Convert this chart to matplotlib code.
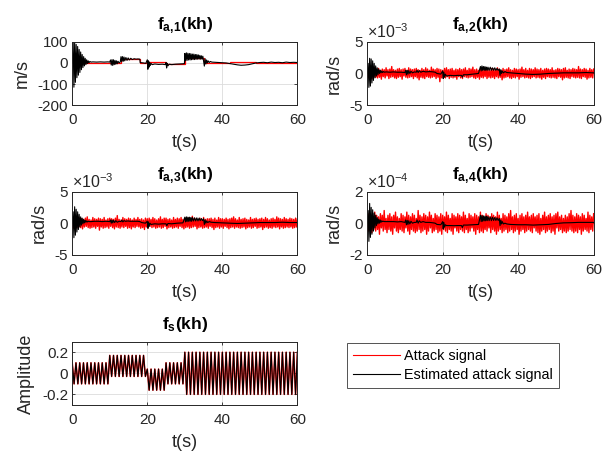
import numpy as np
import matplotlib
matplotlib.use('Agg')
import matplotlib.pyplot as plt

plt.rcParams['font.family'] = ['Liberation Sans', 'DejaVu Sans']
plt.rcParams['mathtext.fontset'] = 'custom'
plt.rcParams['mathtext.rm'] = 'Liberation Sans'
plt.rcParams['mathtext.it'] = 'Liberation Sans:italic'
plt.rcParams['mathtext.bf'] = 'Liberation Sans:bold'
plt.rcParams['axes.unicode_minus'] = False

TEXT = '#262626'
RED = '#ff0000'

# ---- f_a,1 (m/s): attack is piecewise constant, estimate has transients
FA1_ATK_EDGES = [0, 13, 18, 20, 25, 30, 35, 42, 49, 60]
FA1_ATK_LEVEL = [0, 20, 0, 3, -5, 25, 0, 4, 0]
FA1_EST_T = [0, 0.25, 0.45, 0.65, 0.85, 1.05, 1.25, 1.45, 1.65, 1.85, 2.05, 2.25, 2.45,
             2.65, 2.85, 3.05, 3.25, 3.45, 3.65, 3.85, 4.05, 4.25, 4.45, 4.7, 5.0,
             5.5, 6.5, 7.5, 8.5, 9.5, 10.0,
             10.2, 10.4, 10.6, 10.8, 11.0, 11.2, 11.4, 11.6, 11.8, 12.0, 12.2, 12.5, 12.8,
             13.0, 13.2, 13.4, 13.6, 13.8, 14.0, 14.3, 14.6, 14.9, 15.2, 15.6, 16.0, 16.5,
             17.0, 17.5, 18.0, 18.1, 19.0, 19.6,
             20.0, 20.15, 20.3, 20.45, 20.6, 20.8, 21.0, 21.3, 22.0, 23.0, 24.0, 24.8,
             25.0, 25.15, 25.3, 25.5, 25.8, 26.5, 27.5, 28.5, 29.5, 29.9,
             30.0, 30.2, 30.4, 30.6, 30.8, 31.0, 31.2, 31.4, 31.6, 31.8, 32.0, 32.2, 32.4,
             32.6, 32.8, 33.0, 33.2, 33.4, 33.6, 33.8, 34.0, 34.2, 34.4, 34.6, 34.8,
             35.0, 35.2, 35.4, 35.6, 35.8, 36.0, 36.2, 36.5, 36.8, 37.2, 38, 39, 40, 41,
             42, 43, 44, 45, 46, 47, 48, 49, 50,
             51, 52, 53, 54, 55, 56, 57, 58, 59, 60]
FA1_EST_V = [0, 98, -115, 96, -92, 88, -70, 78, -58, 64, -45, 52, -32,
             40, -22, 30, -14, 22, -8, 15, -3, 10, 0, 7, 4,
             5, 4, 5, 4, 5, 4,
             14, -10, 16, -12, 15, -8, 12, -6, 10, -4, 8, 0, 5,
             30, 6, 30, 8, 28, 10, 26, 12, 24, 14, 22, 16, 20,
             18, 19, 18, 2, 0, -2,
             15, -30, 10, -20, 4, -12, -2, -8, -5, -7, -6, -8,
             2, -24, -2, -14, -6, -8, -6, -5, -4, -3,
             45, 10, 48, 12, 46, 14, 45, 14, 44, 15, 42, 16, 42,
             16, 40, 17, 40, 18, 38, 18, 36, 18, 34, 18, 32,
             10, -15, 20, -5, 14, 0, 10, 2, 7, 4, 3, 2, 1, 0,
             -3, -6, -9, -11, -10, -8, -4, 0, 2,
             3, 1, 4, 2, 3, 1, 4, 2, 3, 2]

# ---- f_a,2 (x1e-3 rad/s), attack sampled every 0.25 s
FA2_ATK = [0.5, -0.7, 0.8, -0.4, 0.6, -0.8, 0.7, -0.5, 0.9, -0.6,
           0.4, -0.7, 0.8, -0.6, 0.5, -0.9, 0.7, -0.5, 0.6, -0.7,
           0.9, -0.4, 0.6, -0.8, 0.7, -0.6, 1.1, -0.5, 0.6, -0.7,
           0.5, -0.8, 0.7, -0.6, 0.8, -0.5, 0.6, -0.9, 0.7, -0.4,
           0.8, -0.6, 0.5, -0.7, 0.9, -0.6, 0.7, -0.5, 0.6, -0.8,
           0.7, -0.5, 0.8, -0.7, 0.6, -1.0, 0.5, -0.6, 0.8, -0.7,
           0.6, -0.8, 0.9, -0.5, 0.7, -0.6, 0.5, -0.7, 1.0, -0.6,
           0.7, -0.5, 0.6, -0.8, 0.8, -0.6, 0.7, -1.3, 0.6, -0.7,
           0.5, -0.6, 0.8, -0.7, 0.9, -0.5, 0.6, -0.8, 0.7, -0.6,
           0.8, -0.7, 0.5, -0.6, 0.7, -0.9, 0.6, -0.5, 0.8, -0.7,
           0.6, -0.8, 0.7, -0.5, 0.9, -0.6, 0.5, -0.7, 0.8, -0.6,
           0.7, -0.5, 1.0, -0.7, 0.6, -0.8, 0.7, -0.6, 0.5, -0.9,
           0.8, -0.6, 0.6, -0.7, 0.7, -0.5, 0.9, -0.8, 0.6, -0.6,
           0.5, -0.7, 0.8, -0.6, 0.7, -0.8, 0.6, -0.5, 0.9, -0.7,
           0.7, -0.6, 0.5, -1.0, 0.8, -0.7, 0.6, -0.6, 0.7, -0.5,
           0.9, -0.7, 0.6, -0.8, 0.5, -0.6, 0.8, -0.7, 0.7, -0.5,
           0.6, -0.9, 0.7, -0.6, 1.0, -0.5, 0.6, -0.7, 0.8, -0.6,
           0.5, -0.7, 0.8, -0.8, 0.7, -0.6, 0.6, -0.5, 0.9, -0.7,
           0.7, -0.6, 0.6, -0.7, 0.8, -0.9, 0.5, -0.6, 0.7, -0.8,
           0.8, -0.5, 0.7, -0.6, 0.6, -0.7, 0.9, -0.6, 0.5, -0.7,
           0.6, -0.8, 0.8, -0.5, 0.7, -0.6, 0.6, -1.0, 0.8, -0.7,
           0.9, -0.6, 0.5, -0.7, 0.7, -0.8, 0.6, -0.5, 0.8, -0.6,
           0.7, -0.7, 0.6, -0.6, 1.1, -0.7, 0.7, -0.8, 0.6, -0.5,
           0.8, -0.6, 0.7, -0.9, 0.5, -0.7, 0.8, -0.6, 0.6, -0.7,
           0.7]
FA2_EST_T = [0, 0.25, 0.45, 0.65, 0.85, 1.05, 1.25, 1.45, 1.65, 1.85, 2.05, 2.25, 2.45,
             2.65, 2.85, 3.05, 3.25, 3.45, 3.65, 3.85, 4.05, 4.3, 4.6, 5.0,
             6, 7, 8, 9, 10,
             10.2, 10.4, 10.6, 10.8, 11.0, 11.3, 11.6, 12.0, 12.5, 13.0,
             13.2, 13.5, 13.8, 14.2, 14.8, 15.5, 16.5, 17.5, 18.0, 18.5, 19.5,
             20.0, 20.15, 20.3, 20.5, 20.7, 21.0, 22, 23, 24, 25.0, 25.2, 25.5, 26.5, 28, 29.5,
             30.0, 30.2, 30.4, 30.6, 30.8, 31.0, 31.2, 31.4, 31.6, 31.8, 32.0, 32.3, 32.6,
             32.9, 33.2, 33.5, 33.8, 34.1, 34.4, 34.7, 35.0,
             35.2, 35.4, 35.6, 35.8, 36.1, 36.5, 37,
             38, 40, 42, 44, 46, 48, 50, 52, 54, 56, 58, 60]
FA2_EST_V = [0, 1.6, -2.2, 2.4, -2.0, 2.3, -1.5, 2.0, -1.1, 1.6, -0.7, 1.2, -0.4,
             0.9, -0.2, 0.7, 0.0, 0.5, 0.1, 0.4, 0.15, 0.3, 0.2, 0.25,
             0.2, 0.25, 0.2, 0.2, 0.15,
             0.5, -0.2, 0.5, -0.1, 0.45, 0.0, 0.35, 0.1, 0.25, 0.2,
             0.5, 0.15, 0.45, 0.2, 0.35, 0.25, 0.3, 0.25, 0.2, 0.0, -0.1,
             0.4, -0.8, 0.2, -0.6, -0.1, -0.4, -0.3, -0.35, -0.3, -0.3, -0.6, -0.2, -0.2, -0.1, 0.0,
             1.1, 0.4, 1.2, 0.5, 1.1, 0.5, 1.1, 0.5, 1.0, 0.5, 1.0, 0.5, 1.0,
             0.5, 0.9, 0.5, 0.9, 0.5, 0.8, 0.5, 0.7,
             -0.3, 0.6, 0.0, 0.4, 0.1, 0.3, 0.15,
             0.1, 0.0, -0.1, -0.15, -0.1, 0.0, 0.05, 0.1, 0.1, 0.1, 0.15, 0.1]

# ---- f_a,3 (x1e-3 rad/s), attack sampled every 0.25 s
FA3_ATK = [0.6, -0.8, 0.7, -0.5, 0.9, -0.7, 0.5, -0.6, 0.8, -0.7,
           0.7, -0.9, 0.6, -0.6, 0.8, -0.5, 1.0, -0.7, 0.6, -0.8,
           0.5, -0.7, 0.9, -0.6, 0.7, -0.8, 0.6, -0.5, 0.8, -1.1,
           0.7, -0.6, 0.6, -0.8, 0.9, -0.7, 0.5, -0.6, 0.7, -0.8,
           0.8, -0.5, 0.7, -0.7, 0.6, -0.9, 0.8, -0.6, 1.2, -0.7,
           0.6, -0.8, 0.5, -0.6, 0.9, -0.7, 0.7, -0.5, 0.6, -0.8,
           0.8, -0.7, 0.7, -0.9, 0.5, -0.6, 0.8, -0.7, 0.6, -0.5,
           0.9, -0.6, 0.6, -0.8, 0.7, -0.7, 0.5, -1.0, 0.8, -0.6,
           0.7, -0.8, 0.8, -0.5, 0.6, -0.7, 0.9, -0.6, 0.7, -0.8,
           0.5, -0.7, 0.7, -0.6, 1.0, -0.8, 0.6, -0.7, 0.8, -0.5,
           0.8, -0.9, 0.6, -0.7, 0.7, -0.6, 0.5, -0.8, 0.9, -0.7,
           0.6, -0.6, 0.8, -0.8, 0.7, -0.5, 0.9, -0.7, 0.6, -0.9,
           0.7, -0.7, 0.5, -0.6, 0.8, -0.8, 0.6, -0.7, 1.1, -0.6,
           0.8, -0.5, 0.7, -0.9, 0.6, -0.7, 0.8, -0.6, 0.5, -0.8,
           0.9, -0.7, 0.6, -0.6, 0.7, -0.8, 0.7, -0.5, 0.8, -0.7,
           0.6, -1.0, 0.8, -0.7, 0.5, -0.6, 0.9, -0.8, 0.7, -0.6,
           0.7, -0.8, 0.6, -0.5, 0.8, -0.7, 0.6, -0.9, 0.7, -0.7,
           0.8, -0.6, 1.0, -0.8, 0.7, -0.6, 0.5, -0.7, 0.9, -0.8,
           0.6, -0.7, 0.7, -0.6, 0.8, -0.9, 0.6, -0.7, 0.5, -0.6,
           0.9, -0.8, 0.6, -0.7, 0.7, -0.5, 0.8, -0.8, 0.6, -0.7,
           0.7, -0.6, 0.8, -1.0, 0.6, -0.7, 0.9, -0.6, 0.7, -0.8,
           0.5, -0.7, 0.7, -0.8, 0.8, -0.6, 0.6, -0.7, 1.0, -0.6,
           0.8, -0.9, 0.7, -0.6, 0.6, -0.8, 0.9, -0.7, 0.7, -0.6,
           0.6, -0.7, 0.8, -0.6, 0.7, -0.8, 0.6, -0.7, 0.8, -0.6,
           0.7]
FA3_EST_T = FA2_EST_T
FA3_EST_V = [0, 1.8, -2.3, 2.6, -1.9, 2.2, -1.4, 1.8, -1.0, 1.4, -0.6, 1.0, -0.3,
             0.8, -0.1, 0.6, 0.05, 0.45, 0.15, 0.35, 0.2, 0.3, 0.25, 0.25,
             0.3, 0.3, 0.25, 0.3, 0.25,
             0.5, 0.0, 0.5, 0.05, 0.45, 0.1, 0.4, 0.15, 0.3, 0.25,
             0.5, 0.2, 0.4, 0.3, 0.35, 0.3, 0.3, 0.3, 0.25, 0.1, 0.0,
             0.3, -0.8, 0.2, -0.5, 0.0, -0.2, -0.1, -0.15, -0.1, -0.1, -0.4, -0.05, -0.1, 0.0, 0.05,
             0.95, 0.2, 1.0, 0.25, 0.95, 0.3, 0.95, 0.3, 0.9, 0.3, 0.9, 0.35, 0.85,
             0.35, 0.85, 0.35, 0.8, 0.4, 0.75, 0.4, 0.7,
             -0.2, 0.5, 0.0, 0.35, 0.1, 0.25, 0.15,
             0.1, 0.05, 0.0, -0.05, 0.0, 0.05, 0.1, 0.1, 0.1, 0.15, 0.1, 0.1]

# ---- f_a,4 (x1e-4 rad/s), attack sampled every 0.25 s
FA4_ATK = [0.4, -0.5, 0.6, -0.3, 0.5, -0.6, 0.3, -0.4, 0.7, -0.5,
           0.5, -0.4, 0.4, -0.7, 0.6, -0.3, 0.5, -0.5, 0.8, -0.4,
           0.3, -0.6, 0.5, -0.4, 0.6, -0.5, 0.4, -0.7, 0.5, -0.3,
           0.7, -0.5, 0.4, -0.6, 0.3, -0.4, 0.6, -0.5, 0.5, -0.6,
           0.4, -0.3, 0.7, -0.5, 0.5, -0.7, 0.4, -0.4, 0.6, -0.5,
           0.5, -0.6, 0.3, -0.5, 0.8, -0.4, 0.5, -0.6, 0.4, -0.5,
           0.6, -0.4, 0.5, -0.7, 0.4, -0.5, 0.7, -0.3, 0.5, -0.6,
           0.3, -0.5, 0.6, -0.4, 0.5, -0.6, 0.4, -0.5, 0.6, -0.7,
           0.5, -0.4, 0.4, -0.5, 0.7, -0.6, 0.5, -0.4, 0.3, -0.5,
           0.6, -0.7, 0.5, -0.3, 0.4, -0.5, 0.6, -0.6, 0.5, -0.4,
           0.4, -0.5, 0.7, -0.6, 0.5, -0.4, 0.3, -0.6, 0.6, -0.5,
           0.5, -0.3, 0.4, -0.5, 0.6, -0.7, 0.5, -0.4, 0.4, -0.6,
           0.7, -0.5, 0.5, -0.6, 0.3, -0.4, 0.6, -0.5, 0.5, -0.3,
           0.4, -0.6, 0.6, -0.4, 0.5, -0.5, 0.4, -0.7, 0.7, -0.5,
           0.5, -0.4, 0.3, -0.6, 0.6, -0.5, 0.5, -0.4, 0.4, -0.6,
           0.6, -0.5, 0.8, -0.4, 0.4, -0.6, 0.5, -0.5, 0.6, -0.4,
           0.3, -0.7, 0.5, -0.5, 0.6, -0.4, 0.4, -0.6, 0.5, -0.5,
           0.7, -0.4, 0.4, -0.5, 0.5, -0.6, 0.6, -0.3, 0.4, -0.5,
           0.5, -0.6, 0.6, -0.7, 0.3, -0.5, 0.5, -0.4, 0.7, -0.6,
           0.4, -0.5, 0.5, -0.4, 0.6, -0.6, 0.4, -0.5, 0.5, -0.7,
           0.6, -0.3, 0.7, -0.5, 0.4, -0.4, 0.5, -0.6, 0.3, -0.5,
           0.5, -0.6, 0.4, -0.5, 0.6, -0.4, 0.8, -0.5, 0.5, -0.6,
           0.4, -0.5, 0.6, -0.6, 0.5, -0.4, 0.4, -0.7, 0.6, -0.5,
           0.5, -0.4, 0.3, -0.5, 0.7, -0.6, 0.5, -0.4, 0.4, -0.5,
           0.6]
FA4_EST_T = FA2_EST_T
FA4_EST_V = [0, 0.8, -1.15, 1.25, -0.9, 1.0, -0.7, 0.85, -0.5, 0.65, -0.3, 0.5, -0.15,
             0.35, -0.05, 0.25, 0.0, 0.2, 0.05, 0.15, 0.1, 0.12, 0.1, 0.1,
             0.1, 0.1, 0.08, 0.1, 0.05,
             0.2, -0.1, 0.18, -0.08, 0.15, -0.05, 0.12, 0.0, 0.05, 0.05,
             0.2, 0.0, 0.15, 0.05, 0.1, 0.05, 0.05, 0.02, 0.0, -0.08, -0.1,
             0.1, -0.37, 0.05, -0.25, -0.1, -0.15, -0.15, -0.16, -0.15, -0.15, -0.28, -0.12, -0.12, -0.1, -0.08,
             0.5, 0.1, 0.48, 0.12, 0.46, 0.15, 0.45, 0.15, 0.44, 0.16, 0.42, 0.16, 0.4,
             0.16, 0.38, 0.17, 0.36, 0.17, 0.34, 0.17, 0.3,
             -0.15, 0.2, -0.05, 0.1, -0.05, 0.0, -0.05,
             -0.08, -0.1, -0.1, -0.12, -0.1, -0.08, -0.02, 0.02, 0.03, 0.05, 0.05, 0.05]

# ---- f_s (amplitude), sampled every 0.5 s: estimate overlays the attack signal
FS_ATK = [0.1, -0.1, 0.1, -0.1, 0.1, -0.1, 0.1, -0.1, 0.1, -0.1,
          0.1, -0.1, 0.1, -0.1, 0.1, -0.1, 0.1, -0.1, 0.1, -0.1,
          0.17, -0.03, 0.17, -0.03, 0.17, -0.03, 0.17, -0.03, 0.17, -0.03,
          0.17, -0.03, 0.17, -0.03, 0.17, -0.03, 0.17, -0.03, 0.17, -0.03,
          0.04, -0.16, 0.04, -0.16, 0.04, -0.16, 0.04, -0.16, 0.04, -0.16,
          0.1, -0.1, 0.1, -0.1, 0.1, -0.1, 0.1, -0.1, 0.1, -0.1,
          0.2, -0.2, 0.2, -0.2, 0.2, -0.2, 0.2, -0.2, 0.2, -0.2,
          0.2, -0.2, 0.2, -0.2, 0.2, -0.2, 0.2, -0.2, 0.2, -0.2,
          0.2, -0.2, 0.2, -0.2, 0.2, -0.2, 0.2, -0.2, 0.2, -0.2,
          0.2, -0.2, 0.2, -0.2, 0.2, -0.2, 0.2, -0.2, 0.2, -0.2,
          0.2, -0.2, 0.2, -0.2, 0.2, -0.2, 0.2, -0.2, 0.2, -0.2,
          0.2, -0.2, 0.2, -0.2, 0.2, -0.2, 0.2, -0.2, 0.2, -0.2,
          0.2]

# axes boxes in figure fractions (left, bottom, width, height)
POS = {
    'fa1': [0.118, 0.769, 0.368, 0.139],
    'fa2': [0.600, 0.769, 0.370, 0.139],
    'fa3': [0.118, 0.440, 0.368, 0.139],
    'fa4': [0.600, 0.440, 0.370, 0.139],
    'fs': [0.118, 0.110, 0.368, 0.139],
}


def style(ax, title, ylabel, ylim, yticks, ytick_labels=None, exponent=None):
    ax.set_xlim(0, 60)
    ax.set_xticks([0, 20, 40, 60])
    ax.set_ylim(*ylim)
    ax.set_yticks(yticks)
    if ytick_labels is not None:
        ax.set_yticklabels(ytick_labels)
    ax.grid(True, color='#dcdcdc', linewidth=0.6)
    ax.set_axisbelow(True)
    ax.tick_params(direction='in', top=True, right=True, length=2.5, width=0.6,
                   labelsize=11, colors=TEXT, pad=3)
    ax.tick_params(axis='x', pad=6)
    for sp in ax.spines.values():
        sp.set_color(TEXT)
        sp.set_linewidth(0.7)
    ax.set_title(title, fontsize=12.5, color='black', pad=9)
    ax.set_xlabel('t(s)', fontsize=13, color=TEXT, labelpad=5)
    ax.set_ylabel(ylabel, fontsize=13, color=TEXT, labelpad=5)
    if exponent:
        ax.text(0.0, 1.015, r'$\times10^{' + exponent + '}$', transform=ax.transAxes,
                ha='left', va='bottom', fontsize=11.5, color=TEXT)


fig = plt.figure(figsize=(6.12, 4.55), dpi=100)

ax1 = fig.add_axes(POS['fa1'])
ax1.stairs(FA1_ATK_LEVEL, FA1_ATK_EDGES, color=RED, linewidth=0.9, baseline=None)
ax1.plot(FA1_EST_T, FA1_EST_V, color='black', linewidth=0.8)
style(ax1, r'$\mathbf{f_{a{,}1}(kh)}$', 'm/s', (-200, 100), [-200, -100, 0, 100])

ax2 = fig.add_axes(POS['fa2'])
ax2.plot(np.linspace(0, 60, len(FA2_ATK)), FA2_ATK, color=RED, linewidth=1.0)
ax2.plot(FA2_EST_T, FA2_EST_V, color='black', linewidth=0.8)
style(ax2, r'$\mathbf{f_{a{,}2}(kh)}$', 'rad/s', (-5, 5), [-5, 0, 5], exponent='-3')

ax3 = fig.add_axes(POS['fa3'])
ax3.plot(np.linspace(0, 60, len(FA3_ATK)), FA3_ATK, color=RED, linewidth=1.0)
ax3.plot(FA3_EST_T, FA3_EST_V, color='black', linewidth=0.8)
style(ax3, r'$\mathbf{f_{a{,}3}(kh)}$', 'rad/s', (-5, 5), [-5, 0, 5], exponent='-3')

ax4 = fig.add_axes(POS['fa4'])
ax4.plot(np.linspace(0, 60, len(FA4_ATK)), FA4_ATK, color=RED, linewidth=1.0)
ax4.plot(FA4_EST_T, FA4_EST_V, color='black', linewidth=0.8)
style(ax4, r'$\mathbf{f_{a{,}4}(kh)}$', 'rad/s', (-2, 2), [-2, 0, 2], exponent='-4')

ax5 = fig.add_axes(POS['fs'])
fs_t = np.linspace(0, 60, len(FS_ATK))
atk_line, = ax5.plot(fs_t, FS_ATK, color=RED, linewidth=1.1, label='Attack signal')
est_line, = ax5.plot(fs_t, FS_ATK, color='black', linewidth=0.8,
                     label='Estimated attack signal')
style(ax5, r'$\mathbf{f_{s}(kh)}$', 'Amplitude', (-0.3, 0.3), [-0.2, 0, 0.2],
      ['-0.2', '0', '0.2'])

leg = fig.legend(handles=[atk_line, est_line], loc='upper left',
                 bbox_to_anchor=(0.567, 0.246), borderaxespad=0, fontsize=10.4,
                 frameon=True, fancybox=False, edgecolor=TEXT, handlelength=3.25,
                 borderpad=0.4, labelspacing=0.35, handletextpad=0.3)
leg.get_frame().set_linewidth(0.7)
leg.legend_handles[0].set_linewidth(0.8)

fig.savefig('out.png', dpi=100)
